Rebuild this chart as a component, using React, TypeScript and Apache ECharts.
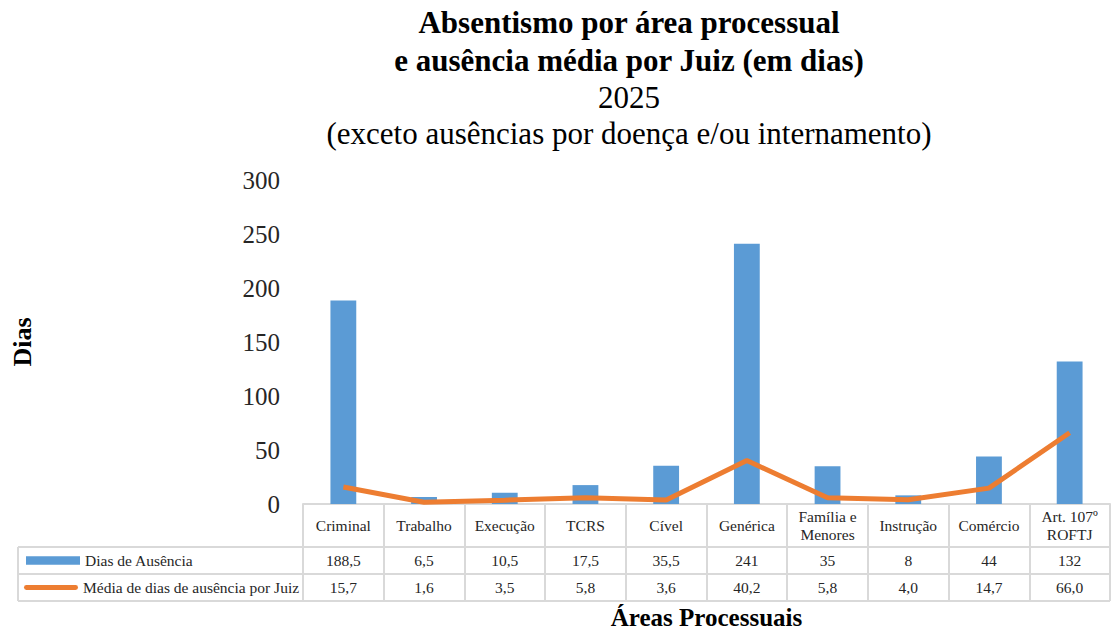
import React, { useEffect, useRef } from "react";
import * as echarts from "echarts";

const categories = [
  "Criminal",
  "Trabalho",
  "Execução",
  "TCRS",
  "Cível",
  "Genérica",
  "Família e\nMenores",
  "Instrução",
  "Comércio",
  "Art. 107º\nROFTJ",
];
const diasAusencia = [188.5, 6.5, 10.5, 17.5, 35.5, 241, 35, 8, 44, 132];
const mediaPorJuiz = [15.7, 1.6, 3.5, 5.8, 3.6, 40.2, 5.8, 4.0, 14.7, 66.0];
const seriesNames = ["Dias de Ausência", "Média de dias de ausência por Juiz"];
const yTicks = { min: 0, max: 300, interval: 50 };
const titleLines = [
  "Absentismo por área processual",
  "e ausência média por Juiz (em dias)",
  "2025",
  "(exceto ausências por doença e/ou internamento)",
];
const yAxisName = "Dias";
const xAxisName = "Áreas Processuais";

const FONT = '"Liberation Serif", "DejaVu Serif", serif';
const W = 1111;
const H = 632;
const GRID_L = 303;
const GRID_R = 1110;
const GRID_T = 180;
const GRID_B = 504;
const ROW1 = 547;
const ROW2 = 574;
const ROW3 = 601;
const TABLE_L = 18;
const LINE_C = "#d9d9d9";

const fmtComma = (v: number, fixed: boolean) =>
  (fixed ? v.toFixed(1) : Number.isInteger(v) ? String(v) : v.toFixed(1)).replace(".", ",");

export default function App() {
  const ref = useRef<HTMLDivElement>(null);
  useEffect(() => {
    if (!ref.current) return;
    const chart = echarts.init(ref.current, null, { renderer: "svg" });
    const titleCX = 629;
    const titleStyles = [
      { y: 22, bold: true },
      { y: 60, bold: true },
      { y: 97, bold: false },
      { y: 133, bold: false },
    ];
    const graphic: any[] = titleLines.map((t, i) => ({
      type: "text",
      x: titleCX,
      y: titleStyles[i].y,
      style: {
        text: t,
        align: "center",
        verticalAlign: "middle",
        fontFamily: FONT,
        fontSize: 31,
        fontWeight: titleStyles[i].bold ? "bold" : "normal",
        fill: "#000",
      },
    }));
    [ROW1, ROW2, ROW3].forEach((y) =>
      graphic.push({
        type: "line",
        shape: { x1: TABLE_L, y1: y, x2: GRID_R, y2: y },
        style: { stroke: LINE_C, lineWidth: 2 },
      })
    );
    graphic.push({
      type: "line",
      shape: { x1: TABLE_L, y1: ROW1, x2: TABLE_L, y2: ROW3 },
      style: { stroke: LINE_C, lineWidth: 2 },
    });

    const cellLabel = {
      interval: 0,
      fontFamily: FONT,
      fontSize: 15.5,
      color: "#262626",
      verticalAlign: "middle",
      lineHeight: 18,
    };

    const legendText = { fontFamily: FONT, fontSize: 15.5, color: "#262626", lineHeight: 16 };
    const legendBase = {
      orient: "vertical",
      left: 26,
      padding: 0,
      itemWidth: 54,
      itemHeight: 16,
      selectedMode: false,
      textStyle: legendText,
    };

    chart.setOption({
      animation: false,
      backgroundColor: "#fff",
      grid: {
        left: GRID_L,
        right: W - GRID_R,
        top: GRID_T,
        bottom: H - GRID_B,
        containLabel: false,
        outerBoundsMode: "none",
      },
      graphic,
      legend: [
        {
          ...legendBase,
          top: (ROW1 + ROW2) / 2 - 8,
          data: [{ name: seriesNames[0], icon: "path://M0,0 L52,0 L52,8 L0,8 Z" }],
        },
        {
          ...legendBase,
          left: 24,
          top: (ROW2 + ROW3) / 2 - 8,
          data: [
            {
              name: seriesNames[1],
              icon: "path://M2.5,0 L53.5,0 Q56,0 56,2.5 Q56,5 53.5,5 L2.5,5 Q0,5 0,2.5 Q0,0 2.5,0 Z",
            },
          ],
        },
      ],
      xAxis: [
        {
          type: "category",
          data: categories,
          position: "bottom",
          boundaryGap: true,
          axisLine: { show: true, lineStyle: { color: LINE_C, width: 2 } },
          axisTick: { show: true, length: ROW3 - GRID_B, lineStyle: { color: LINE_C, width: 2 } },
          axisLabel: { ...cellLabel, margin: (ROW1 - GRID_B) / 2 },
          name: xAxisName,
          nameLocation: "middle",
          nameGap: 617 - GRID_B - 12.5,
          nameTextStyle: { fontFamily: FONT, fontSize: 25, fontWeight: "bold", color: "#000" },
        },
        {
          type: "category",
          data: categories,
          position: "bottom",
          axisLine: { show: false },
          axisTick: { show: false },
          axisLabel: {
            ...cellLabel,
            margin: (ROW1 + ROW2) / 2 - GRID_B,
            formatter: (_v: string, i: number) => fmtComma(diasAusencia[i], false),
          },
        },
        {
          type: "category",
          data: categories,
          position: "bottom",
          axisLine: { show: false },
          axisTick: { show: false },
          axisLabel: {
            ...cellLabel,
            margin: (ROW2 + ROW3) / 2 - GRID_B,
            formatter: (_v: string, i: number) => fmtComma(mediaPorJuiz[i], true),
          },
        },
      ],
      yAxis: {
        type: "value",
        min: yTicks.min,
        max: yTicks.max,
        interval: yTicks.interval,
        axisLine: { show: false },
        axisTick: { show: false },
        splitLine: { show: false },
        axisLabel: { fontFamily: FONT, fontSize: 25, color: "#262626", margin: 23 },
        name: yAxisName,
        nameLocation: "middle",
        nameGap: GRID_L - 22 - 13,
        nameTextStyle: { fontFamily: FONT, fontSize: 26, fontWeight: "bold", color: "#000" },
      },
      series: [
        {
          name: seriesNames[0],
          type: "bar",
          data: diasAusencia,
          barWidth: "32%",
          itemStyle: { color: "#5B9BD5" },
        },
        {
          name: seriesNames[1],
          type: "line",
          data: mediaPorJuiz,
          symbol: "none",
          lineStyle: { color: "#ED7D31", width: 5 },
          itemStyle: { color: "#ED7D31" },
        },
      ],
    });
    return () => chart.dispose();
  }, []);
  return (
    <div
      ref={ref}
      style={{ position: "absolute", left: 0, top: 0, width: W, height: H, background: "#fff" }}
    />
  );
}
